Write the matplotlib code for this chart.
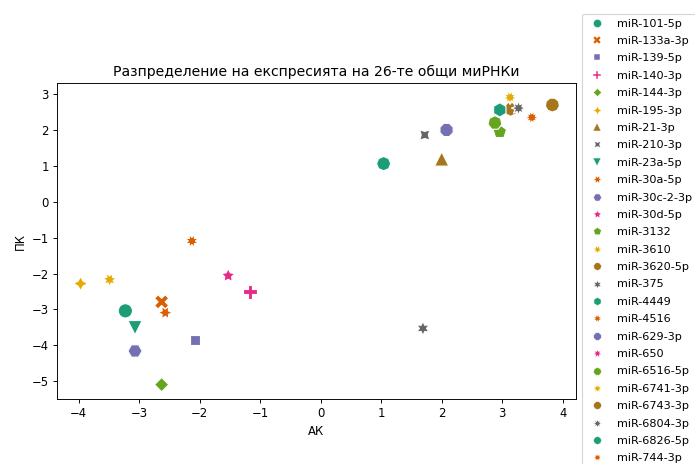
import numpy as np
import pandas as pd
import matplotlib
matplotlib.use("Agg")
import matplotlib.pyplot as plt
import seaborn as sns

mirnas = [
    "miR-101-5p", "miR-133a-3p", "miR-139-5p", "miR-140-3p", "miR-144-3p",
    "miR-195-3p", "miR-21-3p", "miR-210-3p", "miR-23a-5p", "miR-30a-5p",
    "miR-30c-2-3p", "miR-30d-5p", "miR-3132", "miR-3610", "miR-3620-5p",
    "miR-375", "miR-4449", "miR-4516", "miR-629-3p", "miR-650",
    "miR-6516-5p", "miR-6741-3p", "miR-6743-3p", "miR-6804-3p", "miR-6826-5p",
    "miR-744-3p",
]
ak = [-3.23, -2.63, -2.08, -1.17, -2.63,
      -3.97, 2.00, 1.72, -3.07, -2.57,
      -3.07, -1.53, 2.96, -3.49, 3.14,
      1.69, 2.96, -2.13, 2.08, 3.83,
      2.88, 3.13, 3.83, 3.27, 1.04,
      3.49]
pk = [-3.04, -2.79, -3.86, -2.51, -5.10,
      -2.28, 1.20, 1.87, -3.51, -3.09,
      -4.16, -2.06, 1.96, -2.17, 2.59,
      -3.53, 2.57, -1.09, 2.01, 2.71,
      2.21, 2.92, 2.71, 2.62, 1.07,
      2.36]

df = pd.DataFrame({"miRNA": mirnas, "АК": ak, "ПК": pk})

DPI = 84
fig = plt.figure(figsize=(695 / DPI, 464 / DPI), dpi=DPI)
ax = fig.add_axes([57 / 695, 65 / 464, 519 / 695, 316 / 464])

sns.scatterplot(data=df, x="АК", y="ПК", hue="miRNA", style="miRNA",
                palette="Dark2", s=150, ax=ax)

ax.set_title("Разпределение на експресията на 26-те общи миРНКи")
leg = ax.legend(loc="center left", bbox_to_anchor=(1, 0.5),
                labelspacing=0.66, fontsize=9.6)
# smaller legend markers, thin white edge like the original
for h in leg.legend_handles:
    h.set_markersize(7)
    h.set_markeredgewidth(0.4)

fig.savefig("out.png", dpi=DPI)
